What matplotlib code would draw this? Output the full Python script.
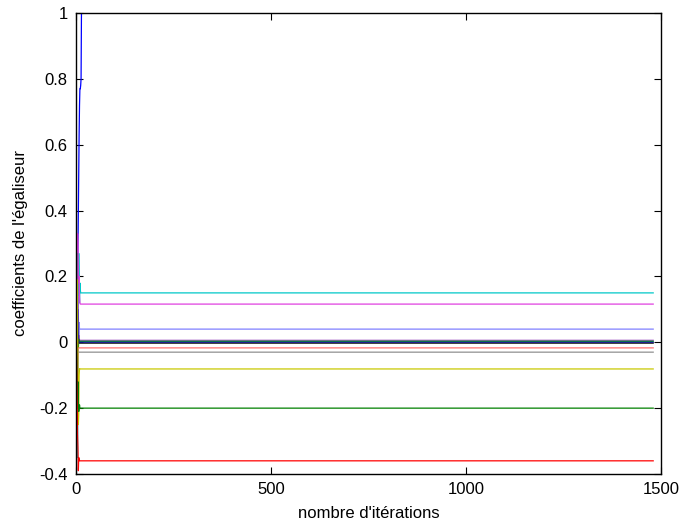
import numpy as np
import matplotlib
matplotlib.use("Agg")
import matplotlib.pyplot as plt

plt.rcParams['font.family'] = ['Liberation Sans', 'DejaVu Sans']

# number of iterations of the adaptive equalizer
n_iter = 1480

# coefficient trajectories during the first iterations (adaptation phase)
tap_transients = [
    [0.00, 0.04, 0.10, 0.18, 0.28, 0.40, 0.52, 0.63, 0.72, 0.77, 0.77, 0.78, 0.80, 1.00],
    [-0.05, -0.20, -0.34, -0.35, -0.10, 0.10, 0.27, 0.20, 0.12, 0.18, 0.16, 0.15],
    [0.05, 0.15, 0.25, 0.33, 0.30, 0.22, 0.18, 0.20, 0.14, 0.12, 0.116],
    [-0.10, 0.00, 0.10, 0.05, 0.14, 0.08, 0.02, 0.06, 0.04],
    [0.00, 0.08, 0.20, 0.27, 0.15, 0.05, 0.00, 0.02, 0.006],
    [0.00, -0.09, -0.15, -0.05, 0.02, -0.02, 0.01, 0.003],
    [0.00, -0.05, -0.02, 0.10, 0.05, 0.02, 0.00],
    [0.00, 0.05, 0.03, -0.02, 0.01, -0.003],
    [0.00, -0.10, -0.25, -0.12, -0.05, -0.02, -0.017],
    [0.00, 0.03, -0.05, -0.02, -0.03, -0.03],
    [0.00, 0.18, 0.19, 0.05, -0.15, -0.25, -0.22, -0.10, -0.08, -0.081],
    [0.00, -0.05, -0.15, -0.20, -0.12, -0.18, -0.21, -0.20, -0.19, -0.20],
    [0.00, -0.10, -0.20, -0.28, -0.32, -0.39, -0.35, -0.355, -0.36],
]

# converged value of each coefficient
tap_final = [1.000, 0.150, 0.116, 0.040, 0.006, 0.003, 0.000, -0.003,
             -0.017, -0.030, -0.081, -0.200, -0.360]

tap_colors = ['#0000ff', '#00c8c8', '#e040e0', '#7f7fff', '#a050c0', '#00a000',
              '#0000c0', '#303030', '#ff7070', '#909090', '#c8c800', '#008000', '#ff0000']

x_ticks = [0, 500, 1000, 1500]
y_ticks = [-0.4, -0.2, 0, 0.2, 0.4, 0.6, 0.8, 1]

fig = plt.figure(figsize=(6.83, 5.26), dpi=100)
ax = fig.add_axes([76 / 683, 52 / 526, 585 / 683, 461 / 526])

it = np.arange(1, n_iter + 1)
for trans, final, col in zip(tap_transients, tap_final, tap_colors):
    y = np.concatenate([trans, np.full(n_iter - len(trans), final)])
    ax.plot(it, y, color=col, linewidth=0.9)

ax.set_xlim(0, 1500)
ax.set_ylim(-0.4, 1)
ax.set_xticks(x_ticks)
ax.set_yticks(y_ticks)
ax.set_xticklabels([str(v) for v in x_ticks])
ax.set_yticklabels(['-0.4', '-0.2', '0', '0.2', '0.4', '0.6', '0.8', '1'])
ax.tick_params(direction='in', top=True, right=True, length=5, width=0.8,
               labelsize=12, pad=6)
for s in ax.spines.values():
    s.set_linewidth(1.0)

ax.set_xlabel("nombre d'itérations", fontsize=12, labelpad=6.5)
ax.set_ylabel("coefficients de l'égaliseur", fontsize=12, labelpad=8)

fig.savefig('out.png', dpi=100, facecolor='white')
